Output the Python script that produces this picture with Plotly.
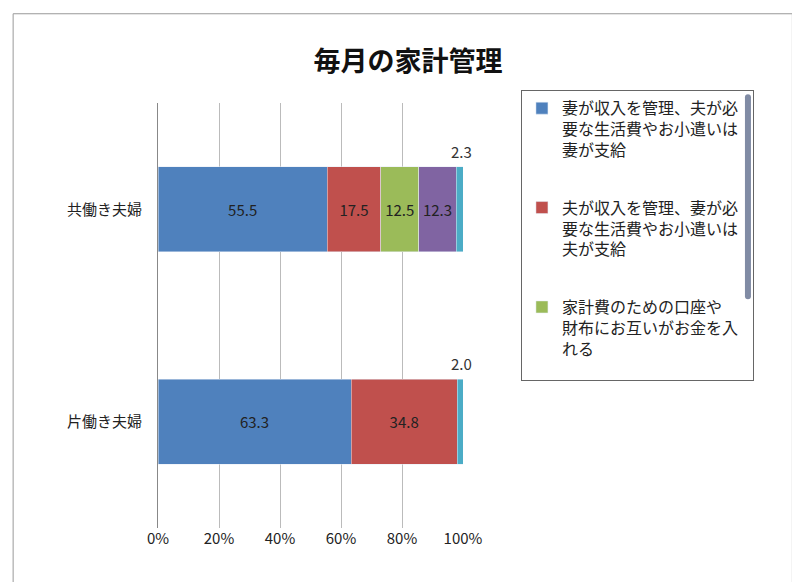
import plotly.graph_objects as go

categories = ["共働き夫婦", "片働き夫婦"]
series_names = [
    "妻が収入を管理、夫が必<br>要な生活費やお小遣いは<br>妻が支給",
    "夫が収入を管理、妻が必<br>要な生活費やお小遣いは<br>夫が支給",
    "家計費のための口座や<br>財布にお互いがお金を入<br>れる",
    "分担を定めた出費項目ご<br>とに各自支払い",
    "その他",
]
values = [
    [55.5, 63.3],
    [17.5, 34.8],
    [12.5, 0.0],
    [12.3, 0.0],
    [2.3, 2.0],
]
colors = ["#4F81BD", "#C0504D", "#9BBB59", "#8064A2", "#4BACC6"]
font = "Noto Sans CJK JP"

fig = go.Figure()
for i, (name, vals, col) in enumerate(zip(series_names, values, colors)):
    inside = i < 4
    fig.add_trace(go.Bar(
        y=categories, x=vals, name=name, orientation="h",
        marker=dict(color=col),
        text=[f"{v:.1f}" if (v > 0 and inside) else "" for v in vals],
        textposition="inside", insidetextanchor="middle",
        textfont=dict(color="#222", size=15),
        legendgroup=str(i),
    ))

# small "その他" labels above the bar ends
for cat, v in zip(categories, values[4]):
    fig.add_annotation(x=100, y=cat, text=f"{v:.1f}", showarrow=False,
                       yshift=58, xshift=-2, font=dict(size=15, color="#333"))

fig.update_layout(
    width=800, height=582, barmode="stack", bargap=0.6,
    font=dict(family=font, size=15, color="#222"),
    title=dict(text="<b>毎月の家計管理</b>", x=0.5, xanchor="center", y=0.925,
               font=dict(size=27, color="#111")),
    margin=dict(l=150, r=345, t=95, b=62),
    plot_bgcolor="white", paper_bgcolor="white",
    xaxis=dict(range=[0, 100], tickvals=[0, 20, 40, 60, 80, 100],
               ticktext=["0%", "20%", "40%", "60%", "80%", "100%"],
               showgrid=True, gridcolor="#BBBBBB", zeroline=False,
               showline=False, ticks=""),
    yaxis=dict(autorange="reversed", showline=True, linecolor="#888",
               ticks="", ticklabelstandoff=12),
    legend=dict(x=1.19, y=1.03, xanchor="left", yanchor="top",
                bordercolor="#666", borderwidth=1, tracegroupgap=34,
                font=dict(size=16), traceorder="grouped", valign="top",
                itemwidth=30),
    showlegend=True,
)
fig.add_shape(type="rect", xref="paper", yref="paper", x0=-0.475, x1=2.08,
              y0=-0.134, y1=1.21, line=dict(color="#999", width=1))
fig.write_html("out.html")
